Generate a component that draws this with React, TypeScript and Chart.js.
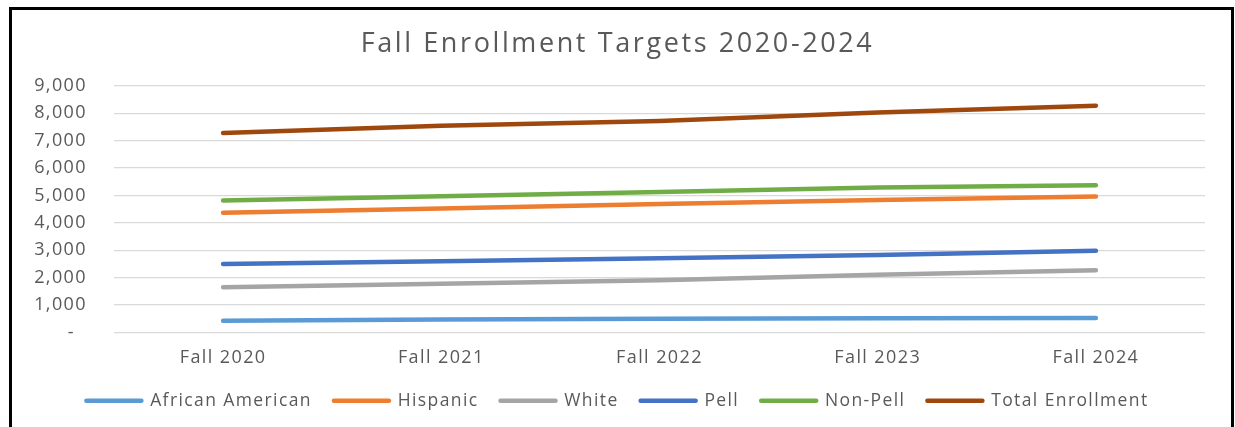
import React, { useEffect, useRef } from "react";
import { Chart, registerables } from "chart.js";

Chart.register(...registerables);

const categories = ["Fall 2020", "Fall 2021", "Fall 2022", "Fall 2023", "Fall 2024"];
const africanAmerican = [430, 470, 500, 520, 530];
const hispanic = [4370, 4530, 4690, 4840, 4960];
const white = [1650, 1780, 1910, 2110, 2270];
const pell = [2500, 2600, 2710, 2830, 2980];
const nonPell = [4820, 4970, 5130, 5290, 5370];
const totalEnrollment = [7280, 7550, 7720, 8030, 8280];

const seriesNames = ["African American", "Hispanic", "White", "Pell", "Non-Pell", "Total Enrollment"];
const seriesColors = ["#5B9BD5", "#ED7D31", "#A5A5A5", "#4472C4", "#70AD47", "#9E480E"];
const seriesValues = [africanAmerican, hispanic, white, pell, nonPell, totalEnrollment];

const titleText = "Fall Enrollment Targets 2020-2024";
const textColor = "#595959";
const fontFamily = "'Open Sans', 'DejaVu Sans', sans-serif";
const BASE_SPACING = "1.4px";
const TITLE_SPACING = "2.6px";

const textSpacingPlugin = {
  id: "textSpacing",
  beforeLayout(chart: any) {
    chart.ctx.letterSpacing = BASE_SPACING;
  },
  beforeDraw(chart: any) {
    chart.ctx.letterSpacing = BASE_SPACING;
    const tb = chart.titleBlock;
    if (tb && !tb.__wrapped) {
      const orig = tb.draw.bind(tb);
      tb.draw = (...args: any[]) => {
        const c = chart.ctx;
        c.letterSpacing = TITLE_SPACING;
        orig(...args);
        c.letterSpacing = BASE_SPACING;
      };
      tb.__wrapped = true;
    }
  },
};

export default function App() {
  const canvasRef = useRef<HTMLCanvasElement | null>(null);

  useEffect(() => {
    if (!canvasRef.current) return;
    const chart = new Chart(canvasRef.current, {
      type: "line",
      data: {
        labels: categories,
        datasets: seriesNames.map((name, i) => ({
          label: name,
          data: seriesValues[i],
          borderColor: seriesColors[i],
          backgroundColor: seriesColors[i],
          borderWidth: 4.5,
          borderCapStyle: "round",
          borderJoinStyle: "round",
          pointRadius: 0,
          tension: 0,
          fill: false,
        })),
      },
      options: {
        animation: false,
        responsive: false,
        layout: { padding: { left: 30, right: 30, top: 13, bottom: 7.5 } },
        scales: {
          x: {
            offset: true,
            grid: { display: false, drawTicks: false },
            border: { display: false },
            ticks: { color: textColor, font: { family: fontFamily, size: 18 }, padding: 14.5 },
            afterFit: (scale: any) => {
              scale.height = 37.5;
            },
          },
          y: {
            min: 0,
            max: 9000,
            grid: { color: "#D9D9D9", lineWidth: 1.3, drawTicks: false },
            border: { display: false },
            ticks: {
              stepSize: 1000,
              color: textColor,
              padding: 27,
              font: { family: fontFamily, size: 18 },
              callback: (v: any) => (Number(v) === 0 ? "-  " : Number(v).toLocaleString("en-US")),
            },
            afterFit: (scale: any) => {
              scale.width = 84;
            },
          },
        },
        plugins: {
          title: {
            display: true,
            text: titleText,
            color: textColor,
            font: { family: fontFamily, size: 27, weight: "normal" },
            padding: { top: 15, bottom: 25.5 },
          },
          tooltip: { enabled: false },
          legend: {
            display: true,
            position: "bottom",
            labels: {
              usePointStyle: true,
              pointStyleWidth: 55,
              padding: 22,
              color: textColor,
              font: { family: fontFamily, size: 17.5 },
              generateLabels: (c: any) =>
                c.data.datasets.map((ds: any, i: number) => ({
                  text: ds.label,
                  fillStyle: ds.borderColor,
                  strokeStyle: ds.borderColor,
                  lineWidth: 4.5,
                  lineCap: "round",
                  pointStyle: "line",
                  hidden: false,
                  datasetIndex: i,
                  fontColor: textColor,
                })),
            },
          },
        },
      },
      plugins: [textSpacingPlugin],
    });
    return () => chart.destroy();
  }, []);

  return (
    <div style={{ position: "fixed", left: 0, top: 0, width: 1235, height: 427, background: "#fff", overflow: "hidden" }}>
      <canvas ref={canvasRef} width={1235} height={427} style={{ position: "absolute", left: 0, top: 0 }} />
      <div
        style={{
          position: "absolute",
          left: 9,
          top: 7,
          width: 1219,
          height: 440,
          borderTop: "3px solid #000",
          borderLeft: "3px solid #000",
          borderRight: "3px solid #000",
          pointerEvents: "none",
        }}
      />
    </div>
  );
}
